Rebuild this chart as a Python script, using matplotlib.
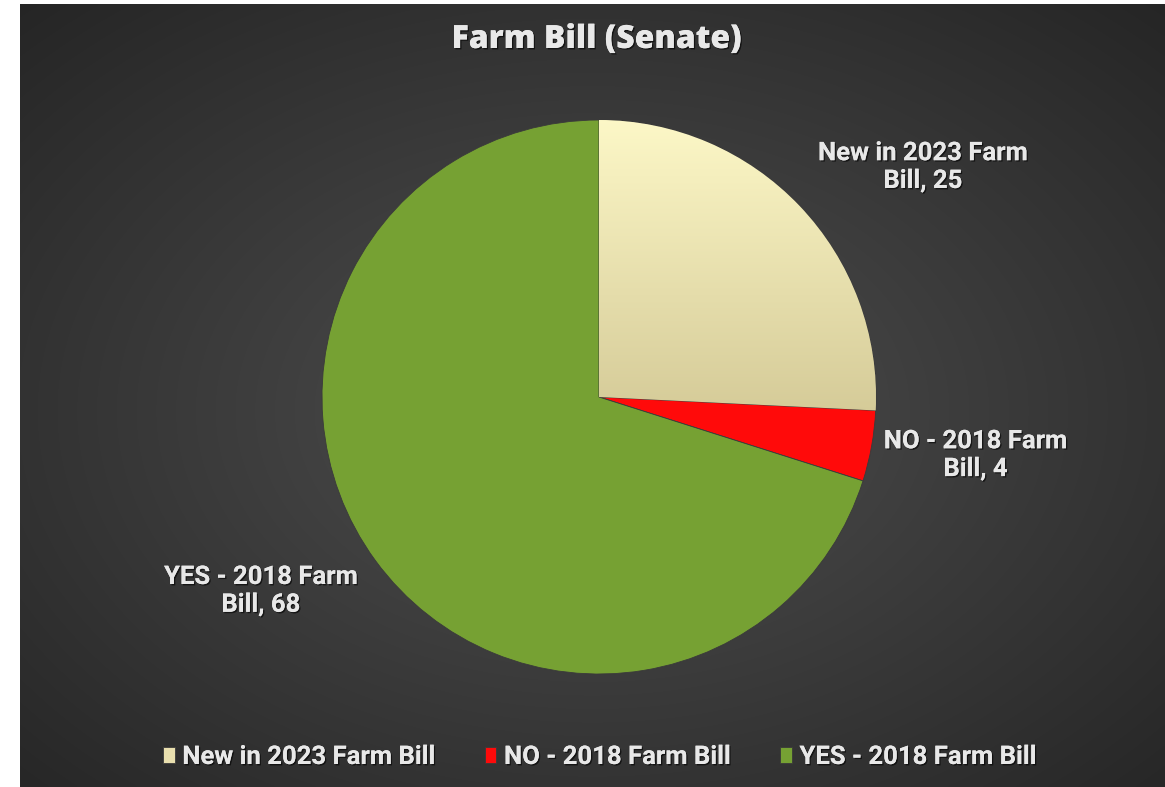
import matplotlib
matplotlib.use("Agg")
import matplotlib.pyplot as plt
import matplotlib.patheffects as pe
import numpy as np

# data
labels = ['New in 2023 Farm Bill', 'NO - 2018 Farm Bill', 'YES - 2018 Farm Bill']
values = [25, 4, 68]
label_text = ['New in 2023 Farm\nBill, 25', 'NO - 2018 Farm\nBill, 4', 'YES - 2018 Farm\nBill, 68']
colors = ['#e9dfae', '#ff0a0a', '#76a133']

W, H = 1165, 787
fig = plt.figure(figsize=(W / 100, H / 100), dpi=100)
fig.patch.set_facecolor('white')

# dark radial background
bg = fig.add_axes([20 / W, 0, (W - 20) / W, (H - 4) / H])
yy, xx = np.mgrid[0:1:400j, 0:1:600j]
d = np.sqrt(((xx - 0.5) / 0.75) ** 2 + ((yy - 0.52) / 0.75) ** 2)
shade = np.clip(0.31 - 0.17 * d, 0.14, 0.31)
bg.imshow(np.dstack([shade] * 3), aspect='auto', extent=(0, 1, 0, 1), interpolation='bicubic')
bg.axis('off')

font = ['Roboto', 'DejaVu Sans']
title_font = ['Open Sans', 'DejaVu Sans']
txt_col = '#e8e8e8'
shadow = [pe.withSimplePatchShadow(offset=(1, -1), shadow_rgbFace='black', alpha=0.6), pe.Normal()]

# pie
cx, cy, r = 599, 397, 277
ax = fig.add_axes([(cx - r) / W, (H - cy - r) / H, 2 * r / W, 2 * r / H])
wedges, _ = ax.pie(values, colors=colors, startangle=90, counterclock=False, radius=1,
                   wedgeprops=dict(edgecolor='#3a3a3a', linewidth=0.6))

# gradient on the cream wedge
grad_y = np.linspace(0, 1, 200)[:, None] * np.ones((1, 10))
cream_top = np.array([0.99, 0.97, 0.78])
cream_bot = np.array([0.83, 0.79, 0.59])
cream = cream_bot[None, None, :] * (1 - grad_y[..., None]) + cream_top[None, None, :] * grad_y[..., None]
im = ax.imshow(cream, extent=(0, 1, -0.1, 1), origin='lower', aspect='auto', zorder=2)
im.set_clip_path(wedges[0])
ax.set_xlim(-1, 1)
ax.set_ylim(-1, 1)

# data labels
label_pos = [(1.17, 0.83), (1.36, -0.21), (-1.22, -0.70)]
for (lx, ly), t in zip(label_pos, label_text):
    ax.text(lx, ly, t, ha='center', va='center', fontsize=18.5, fontweight='bold',
            color=txt_col, family=font, linespacing=1.2, path_effects=shadow, clip_on=False)

fig.text(597 / W, 1 - 40 / H, 'Farm Bill (Senate)', ha='center', va='center', fontsize=23,
         fontweight='heavy', color=txt_col, family=title_font, path_effects=shadow)

leg = fig.legend(wedges, labels, loc='center', bbox_to_anchor=(600 / W, 1 - 757 / H), ncol=3,
                 frameon=False, handlelength=0.45, handleheight=0.55, handletextpad=0.3,
                 columnspacing=1.9, prop=dict(family=font, weight='bold', size=18.5))
for t in leg.get_texts():
    t.set_color(txt_col)
    t.set_path_effects(shadow)

fig.savefig('out.png', dpi=100)
